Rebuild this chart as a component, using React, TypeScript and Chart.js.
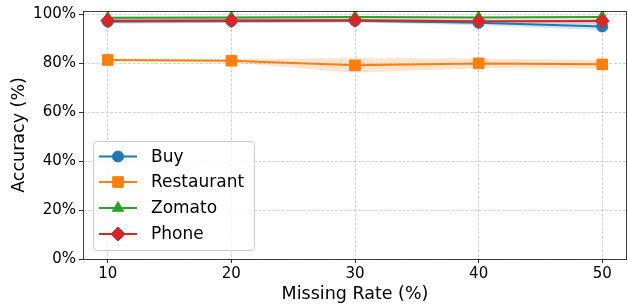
import React, { useEffect, useRef } from 'react';
import { Chart, registerables } from 'chart.js';

Chart.register(...registerables);

const missingRates = [10, 20, 30, 40, 50];
const yTickValues = [0, 20, 40, 60, 80, 100];

const seriesNames = ['Buy', 'Restaurant', 'Zomato', 'Phone'];
const buyAcc = [97.0, 97.2, 97.3, 96.5, 95.0];
const buyStd = [0.8, 0.8, 0.7, 1.0, 1.5];
const restaurantAcc = [81.3, 81.0, 79.1, 79.9, 79.5];
const restaurantStd = [0.4, 0.7, 3.0, 2.0, 1.8];
const zomatoAcc = [98.5, 98.6, 98.8, 98.6, 98.9];
const zomatoStd = [0.5, 0.5, 0.4, 0.5, 0.4];
const phoneAcc = [97.3, 97.4, 97.5, 97.1, 97.2];
const phoneStd = [1.0, 1.0, 0.8, 0.8, 1.0];

const FONT = "'DejaVu Sans', sans-serif";

type Series = {
  name: string;
  color: string;
  band: string;
  style: string;
  radius: number;
  values: number[];
  std: number[];
};

const series: Series[] = [
  { name: seriesNames[0], color: '#1f77b4', band: 'rgba(31,119,180,0.2)', style: 'circle', radius: 5.5, values: buyAcc, std: buyStd },
  { name: seriesNames[1], color: '#ff7f0e', band: 'rgba(255,127,14,0.2)', style: 'rect', radius: 7.5, values: restaurantAcc, std: restaurantStd },
  { name: seriesNames[2], color: '#2ca02c', band: 'rgba(44,160,44,0.2)', style: 'triangle', radius: 6.5, values: zomatoAcc, std: zomatoStd },
  { name: seriesNames[3], color: '#d62728', band: 'rgba(214,39,40,0.2)', style: 'rectRot', radius: 7, values: phoneAcc, std: phoneStd },
];

function drawMarker(ctx: CanvasRenderingContext2D, style: string, x: number, y: number, r: number, color: string) {
  ctx.save();
  ctx.fillStyle = color;
  ctx.strokeStyle = color;
  ctx.lineWidth = 1;
  ctx.beginPath();
  if (style === 'circle') {
    ctx.arc(x, y, r, 0, Math.PI * 2);
  } else if (style === 'rect') {
    const s = r * Math.SQRT1_2;
    ctx.rect(x - s, y - s, 2 * s, 2 * s);
  } else if (style === 'triangle') {
    const side = (3 * r) / Math.sqrt(3);
    const h = (side * Math.sqrt(3)) / 2;
    ctx.moveTo(x, y - (2 * h) / 3);
    ctx.lineTo(x + side / 2, y + h / 3);
    ctx.lineTo(x - side / 2, y + h / 3);
    ctx.closePath();
  } else {
    ctx.moveTo(x - r, y);
    ctx.lineTo(x, y - r);
    ctx.lineTo(x + r, y);
    ctx.lineTo(x, y + r);
    ctx.closePath();
  }
  ctx.fill();
  ctx.stroke();
  ctx.restore();
}

const framePlugin = {
  id: 'frameAndLegend',
  afterDatasetsDraw(chart: any) {
    const { ctx, chartArea } = chart;
    ctx.save();
    ctx.strokeStyle = 'rgba(0,0,0,0.75)';
    ctx.lineWidth = 1;
    ctx.strokeRect(
      Math.round(chartArea.left) + 0.5,
      Math.round(chartArea.top) + 0.5,
      Math.round(chartArea.right - chartArea.left) - 1,
      Math.round(chartArea.bottom - chartArea.top)
    );
    ctx.restore();
  },
  afterDraw(chart: any) {
    const { ctx } = chart;
    const bx = 93.5, by = 141.5, bw = 161, bh = 109, rad = 4;
    ctx.save();
    ctx.beginPath();
    ctx.moveTo(bx + rad, by);
    ctx.lineTo(bx + bw - rad, by);
    ctx.quadraticCurveTo(bx + bw, by, bx + bw, by + rad);
    ctx.lineTo(bx + bw, by + bh - rad);
    ctx.quadraticCurveTo(bx + bw, by + bh, bx + bw - rad, by + bh);
    ctx.lineTo(bx + rad, by + bh);
    ctx.quadraticCurveTo(bx, by + bh, bx, by + bh - rad);
    ctx.lineTo(bx, by + rad);
    ctx.quadraticCurveTo(bx, by, bx + rad, by);
    ctx.closePath();
    ctx.fillStyle = 'rgba(255,255,255,0.8)';
    ctx.fill();
    ctx.strokeStyle = '#cccccc';
    ctx.lineWidth = 1;
    ctx.stroke();
    const rows = [156.5, 182, 208, 234];
    series.forEach((s, i) => {
      const y = rows[i];
      ctx.strokeStyle = s.color;
      ctx.lineWidth = 2;
      ctx.beginPath();
      ctx.moveTo(99, y);
      ctx.lineTo(137, y);
      ctx.stroke();
      drawMarker(ctx, s.style, 118, y, s.radius, s.color);
      ctx.fillStyle = '#000';
      ctx.font = `17px ${FONT}`;
      ctx.textBaseline = 'middle';
      ctx.textAlign = 'left';
      ctx.fillText(s.name, 151, y + 1);
    });
    ctx.restore();
  },
};

export default function App() {
  const canvasRef = useRef<HTMLCanvasElement | null>(null);

  useEffect(() => {
    const canvas = canvasRef.current;
    if (!canvas) return;
    const datasets: any[] = [];
    series.forEach((s) => {
      datasets.push({
        label: s.name + ' low',
        data: missingRates.map((x, i) => ({ x, y: s.values[i] - s.std[i] })),
        borderWidth: 0,
        pointRadius: 0,
        fill: false,
        order: 10,
        borderColor: 'rgba(0,0,0,0)',
      });
      datasets.push({
        label: s.name + ' high',
        data: missingRates.map((x, i) => ({ x, y: s.values[i] + s.std[i] })),
        borderWidth: 0,
        pointRadius: 0,
        fill: '-1',
        backgroundColor: s.band,
        order: 10,
        borderColor: 'rgba(0,0,0,0)',
      });
    });
    series.forEach((s, i) => {
      datasets.push({
        label: s.name,
        data: missingRates.map((x, j) => ({ x, y: s.values[j] })),
        borderColor: s.color,
        backgroundColor: s.color,
        borderWidth: 2,
        pointStyle: s.style,
        pointRadius: s.radius,
        pointBorderWidth: 1,
        pointBorderColor: s.color,
        pointBackgroundColor: s.color,
        fill: false,
        tension: 0,
        order: 4 - i,
      });
    });

    const chart = new Chart(canvas, {
      type: 'line',
      data: { datasets },
      options: {
        responsive: false,
        animation: false,
        devicePixelRatio: 1,
        layout: { autoPadding: false, padding: { top: 11, right: 1, left: 0, bottom: 0 } },
        plugins: {
          legend: { display: false },
          tooltip: { enabled: false },
          filler: { drawTime: 'beforeDatasetsDraw' },
        },
        scales: {
          x: {
            type: 'linear',
            min: 8,
            max: 52,
            afterBuildTicks: (scale: any) => {
              scale.ticks = missingRates.map((v) => ({ value: v }));
            },
            afterFit: (scale: any) => {
              scale.height = 45;
              scale.paddingLeft = 0;
              scale.paddingRight = 0;
            },
            ticks: {
              callback: (v: any) => String(v),
              color: '#000',
              font: { family: FONT, size: 15 },
              padding: 2,
              maxRotation: 0,
            },
            grid: {
              color: 'rgba(176,176,176,0.7)',
              lineWidth: 0.8,
              drawTicks: true,
              tickLength: 4,
              tickColor: '#333',
              tickWidth: 1,
            },
            border: { display: false, dash: [3, 1.5] },
            title: {
              display: true,
              text: 'Missing Rate (%)',
              color: '#000',
              font: { family: FONT, size: 17.5 },
              padding: { top: 0, bottom: -1 },
            },
          },
          y: {
            type: 'linear',
            min: 0,
            max: 101.3,
            afterBuildTicks: (scale: any) => {
              scale.ticks = yTickValues.map((v) => ({ value: v }));
            },
            afterFit: (scale: any) => {
              scale.width = 83;
              scale.paddingTop = 0;
              scale.paddingBottom = 0;
            },
            ticks: {
              callback: (v: any) => v + '%',
              color: '#000',
              font: { family: FONT, size: 15 },
              padding: 3,
            },
            grid: {
              color: 'rgba(176,176,176,0.7)',
              lineWidth: 0.8,
              drawTicks: true,
              tickLength: 4,
              tickColor: '#333',
              tickWidth: 1,
            },
            border: { display: false, dash: [3, 1.5] },
            title: {
              display: true,
              text: 'Accuracy (%)',
              color: '#000',
              font: { family: FONT, size: 17.5 },
              padding: { top: 9, bottom: 0 },
            },
          },
        },
      },
      plugins: [framePlugin],
    });
    return () => chart.destroy();
  }, []);

  return (
    <div style={{ position: 'absolute', left: 0, top: 0, width: 628, height: 304 }}>
      <canvas ref={canvasRef} width={628} height={304} />
    </div>
  );
}
